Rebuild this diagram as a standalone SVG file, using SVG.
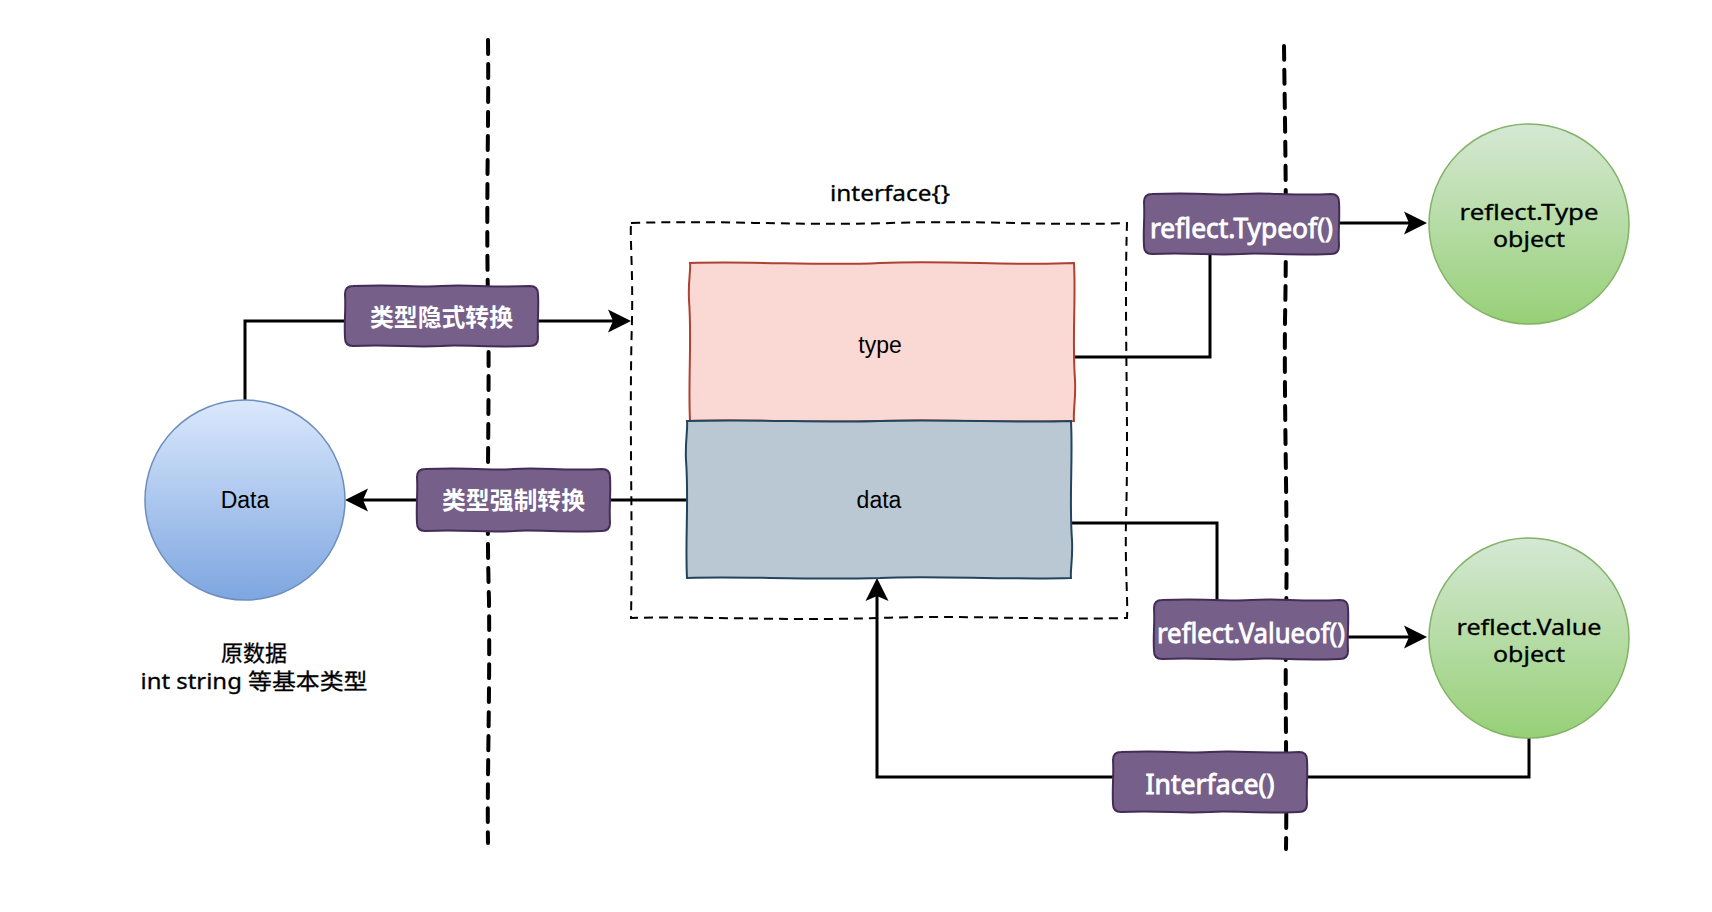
<svg xmlns="http://www.w3.org/2000/svg" width="1712" height="912" viewBox="0 0 1712 912">
<defs>
  <linearGradient id="gBlue" x1="0" y1="0" x2="0" y2="1">
    <stop offset="0" stop-color="#dae8fc"/>
    <stop offset="1" stop-color="#7ea6e0"/>
  </linearGradient>
  <linearGradient id="gGreen" x1="0" y1="0" x2="0" y2="1">
    <stop offset="0" stop-color="#d5e8d4"/>
    <stop offset="1" stop-color="#97d077"/>
  </linearGradient>
  <marker id="arrow" markerUnits="userSpaceOnUse" markerWidth="30" markerHeight="30" viewBox="-6 -14 30 28" refX="0" refY="0" orient="auto">
    <path d="M18,0 L-5,-11.5 L0,0 L-5,11.5 Z" fill="#000"/>
  </marker>
  <style>
    .sep { fill: none; stroke: #000; stroke-width: 4; stroke-dasharray: 14 10; stroke-linecap: round; }
    .frame { fill: none; stroke: #000; stroke-width: 2; stroke-dasharray: 9 6; }
    .edge { fill: none; stroke: #000; stroke-width: 3; }
    .label { fill: #76608a; stroke: #432d57; stroke-width: 2; }
    .ltxt { fill: #fff; stroke: #fff; stroke-width: 0.9; font-family: "Noto Sans", "Noto Sans CJK SC", sans-serif; font-size: 28px; text-anchor: middle; }
    .ctxt { fill: #fff; font-family: "Noto Sans CJK SC", sans-serif; font-weight: bold; font-size: 24px; text-anchor: middle; }
    .hand { fill: #000; stroke: #000; stroke-width: 0.3; font-family: "Noto Sans", "Noto Sans CJK SC", sans-serif; font-size: 22px; text-anchor: middle; }
    .plain { fill: #000; font-family: "Liberation Sans", Arial, sans-serif; font-size: 23px; text-anchor: middle; }
  </style>
</defs>
<rect width="1712" height="912" fill="#fff"/>

<g id="separators">
  <path class="sep" d="M488,40 C489,120 486,200 488,300 C490,400 486,500 489,600 C490,700 487,780 488,843"/>
  <path class="sep" d="M1284,46 C1285,130 1287,220 1285,320 C1284,420 1288,520 1286,620 C1285,700 1287,780 1286,849"/>
</g>

<g id="interface-frame">
  <path class="frame" d="M631,223 C720,220 800,226 890,223 C980,220 1050,226 1127,223 C1124,320 1129,420 1126,520 C1125,570 1128,600 1127,618 C1040,620 960,615 880,618 C780,621 700,616 631,618 C633,520 629,420 632,320 C633,270 630,240 631,223 Z"/>
  <text class="hand" x="890" y="201" textLength="120" lengthAdjust="spacingAndGlyphs">interface{}</text>
</g>

<g id="connectors">
  <path class="edge" d="M245,400 V321 H613" marker-end="url(#arrow)"/>
  <path class="edge" d="M687,500 H363" marker-end="url(#arrow)"/>
  <path class="edge" d="M1074,357 H1210 V254"/>
  <path class="edge" d="M1339,223 H1409" marker-end="url(#arrow)"/>
  <path class="edge" d="M1071,523 H1217 V600"/>
  <path class="edge" d="M1348,637 H1409" marker-end="url(#arrow)"/>
  <path class="edge" d="M1529,738 V777 H877 V596" marker-end="url(#arrow)"/>
</g>

<g id="node-data">
  <circle cx="245" cy="500" r="100" fill="url(#gBlue)" stroke="#6c8ebf" stroke-width="1.5"/>
  <text class="plain" x="245" y="508">Data</text>
</g>

<g id="node-data-caption">
  <text class="hand" x="254" y="661" font-family="'Noto Sans CJK SC', sans-serif">原数据</text>
  <text class="hand" x="254" y="689" textLength="227" lengthAdjust="spacingAndGlyphs">int string 等基本类型</text>
</g>

<g id="node-type">
  <path d="M690,263 C760,261 820,266 880,263 C950,260 1010,266 1074,263 C1076,300 1072,340 1075,380 C1076,400 1073,410 1074,421 C1000,423 930,419 880,421 C800,423 740,419 690,421 C688,380 692,340 689,300 C688,280 691,270 690,263 Z" fill="#fad9d5" stroke="#ae4132" stroke-width="2"/>
  <text class="plain" x="880" y="353">type</text>
</g>

<g id="node-data-field">
  <path d="M687,421 C760,419 820,423 880,421 C950,419 1010,423 1071,421 C1073,460 1069,500 1072,540 C1073,560 1070,570 1071,578 C1000,580 930,575 880,578 C800,580 740,576 687,578 C685,540 689,500 686,460 C685,440 688,430 687,421 Z" fill="#bac8d3" stroke="#23445d" stroke-width="2"/>
  <text class="plain" x="879" y="508">data</text>
</g>

<g id="label-implicit">
  <path class="label" d="M353,286 C405,284 421,288 441,286 C471,284 488,288 530,286 Q538,286 538,294 C539,311 537,321 538,338 Q538,346 530,346 C478,348 462,344 441,346 C411,348 395,344 353,346 Q345,346 345,338 C344,321 346,311 345,294 Q345,286 353,286 Z"/>
  <text class="ctxt" x="441.5" y="326" textLength="143" lengthAdjust="spacingAndGlyphs">类型隐式转换</text>
</g>

<g id="label-explicit">
  <path class="label" d="M425,469 C477,467 493,471 513,469 C543,467 560,471 602,469 Q610,469 610,477 C611,494 609,506 610,523 Q610,531 602,531 C550,533 534,529 513,531 C483,533 467,529 425,531 Q417,531 417,523 C416,506 418,494 417,477 Q417,469 425,469 Z"/>
  <text class="ctxt" x="513.5" y="509" textLength="143" lengthAdjust="spacingAndGlyphs">类型强制转换</text>
</g>

<g id="label-typeof">
  <path class="label" d="M1152,194 C1204,192 1221,196 1241,194 C1271,192 1289,196 1331,194 Q1339,194 1339,202 C1340,219 1338,229 1339,246 Q1339,254 1331,254 C1279,256 1261,252 1241,254 C1211,256 1194,252 1152,254 Q1144,254 1144,246 C1143,229 1145,219 1144,202 Q1144,194 1152,194 Z"/>
  <text class="ltxt" x="1241.5" y="238" textLength="183" lengthAdjust="spacingAndGlyphs">reflect.Typeof()</text>
</g>

<g id="label-valueof">
  <path class="label" d="M1162,600 C1214,598 1231,602 1251,600 C1281,598 1298,602 1340,600 Q1348,600 1348,608 C1349,625 1347,634 1348,651 Q1348,659 1340,659 C1288,661 1271,657 1251,659 C1221,661 1204,657 1162,659 Q1154,659 1154,651 C1153,634 1155,625 1154,608 Q1154,600 1162,600 Z"/>
  <text class="ltxt" x="1251" y="643" textLength="188" lengthAdjust="spacingAndGlyphs">reflect.Valueof()</text>
</g>

<g id="label-interface">
  <path class="label" d="M1121,752 C1173,750 1190,754 1210,752 C1240,750 1257,754 1299,752 Q1307,752 1307,760 C1308,777 1306,787 1307,804 Q1307,812 1299,812 C1247,814 1230,810 1210,812 C1180,814 1163,810 1121,812 Q1113,812 1113,804 C1112,787 1114,777 1113,760 Q1113,752 1121,752 Z"/>
  <text class="ltxt" x="1210" y="794" textLength="129" lengthAdjust="spacingAndGlyphs">Interface()</text>
</g>

<g id="node-reflect-type">
  <circle cx="1529" cy="224" r="100" fill="url(#gGreen)" stroke="#82b366" stroke-width="1.5"/>
  <text class="hand" x="1529" y="220" textLength="139" lengthAdjust="spacingAndGlyphs">reflect.Type</text>
  <text class="hand" x="1529" y="247" textLength="72" lengthAdjust="spacingAndGlyphs">object</text>
</g>

<g id="node-reflect-value">
  <circle cx="1529" cy="638" r="100" fill="url(#gGreen)" stroke="#82b366" stroke-width="1.5"/>
  <text class="hand" x="1529" y="635" textLength="145" lengthAdjust="spacingAndGlyphs">reflect.Value</text>
  <text class="hand" x="1529" y="662" textLength="72" lengthAdjust="spacingAndGlyphs">object</text>
</g>
</svg>
